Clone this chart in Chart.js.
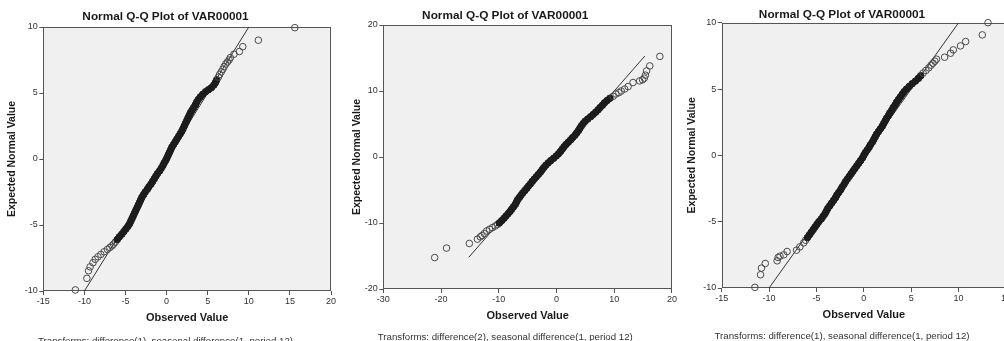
<!DOCTYPE html>
<html>
<head>
<meta charset="utf-8">
<script src="https://cdn.jsdelivr.net/npm/chart.js@4.4.1/dist/chart.umd.min.js"></script>
<style>
  body { margin: 0; background: #fff; overflow: hidden; width: 1004px; height: 341px; position: relative; }
  canvas { position: absolute; top: 0; }
</style>
</head>
<body>
<canvas id="qq1" width="338" height="348" style="left:0px"></canvas>
<canvas id="qq2" width="340" height="343" style="left:338px"></canvas>
<canvas id="qq3" width="334" height="343" style="left:678px"></canvas>
<script>
// shared texts
const chartTitle = 'Normal Q-Q Plot of VAR00001';
const xLabel = 'Observed Value';
const yLabel = 'Expected Normal Value';
const notes = [
  'Transforms: difference(1), seasonal difference(1, period 12)',
  'Transforms: difference(2), seasonal difference(1, period 12)',
  'Transforms: difference(1), seasonal difference(1, period 12)'
];

// panel 1 : observed vs expected normal value
const obs1 = [-11.1, -9.7, -9.5, -9.3, -8.96, -8.68, -8.35, -8.0, -7.6, -7.2, -6.9, -6.65, -6.45,
  -6.25, -6.0, -5.75, -5.45, -5.2, -4.95, -4.7, -4.5, -4.35, -4.2,
  -4.05, -3.9, -3.75, -3.6, -3.45, -3.3, -3.15, -3.0, -2.8, -2.6,
  -2.35, -2.15, -1.9, -1.7, -1.5, -1.3, -1.1, -0.85, -0.65, -0.45,
  -0.3, -0.1, 0.05, 0.2, 0.35, 0.5, 0.65, 0.85, 1.05, 1.25, 1.45, 1.65,
  1.85, 2.0, 2.15, 2.3, 2.45, 2.6, 2.75, 2.9, 3.1, 3.3,
  3.5, 3.65, 3.85, 4.1, 4.4, 4.75,
  5.1, 5.45, 5.75, 5.95, 6.1, 6.3, 6.45, 6.65, 6.85, 7.0,
  7.2, 7.4, 7.6, 7.75, 8.2, 8.85, 9.27, 11.16, 15.6];
const exp1 = [-9.92, -9.04, -8.47, -8.17, -7.86, -7.6, -7.41, -7.23, -7.03, -6.85, -6.7, -6.58, -6.45,
  -6.3, -6.1, -5.9, -5.7, -5.5, -5.3, -5.1, -4.9, -4.7, -4.5,
  -4.3, -4.1, -3.9, -3.7, -3.5, -3.3, -3.1, -2.9, -2.7, -2.5,
  -2.3, -2.1, -1.9, -1.7, -1.5, -1.3, -1.1, -0.9, -0.7, -0.5,
  -0.3, -0.1, 0.1, 0.3, 0.5, 0.7, 0.9, 1.1, 1.3, 1.5, 1.7, 1.9,
  2.1, 2.3, 2.5, 2.7, 2.9, 3.1, 3.3, 3.5, 3.7, 3.9,
  4.1, 4.3, 4.5, 4.7, 4.9, 5.1,
  5.25, 5.4, 5.6, 5.8, 6.0, 6.2, 6.4, 6.6, 6.8, 7.0,
  7.2, 7.35, 7.5, 7.68, 7.94, 8.14, 8.51, 9.0, 9.95];
const ref1 = [-10, 10];

// panel 2
const obs2 = [-21.1, -19.05, -15.1, -13.7, -13.2, -12.9, -12.5, -12.1, -11.6, -11.1, -10.6, -10.2,
  -9.9, -9.5, -9.1, -8.75, -8.4, -8.05, -7.75, -7.45, -7.15, -6.95,
  -6.75, -6.45, -6.15, -5.85, -5.5, -5.15, -4.85, -4.5, -4.2, -3.85,
  -3.5, -3.15, -2.8, -2.5, -2.2, -1.85, -1.45, -1.0, -0.5, -0.05,
  0.35, 0.7, 1.0, 1.3, 1.65, 2.05, 2.45, 2.8, 3.2, 3.5,
  3.8, 4.05, 4.3, 4.6, 4.95, 5.4, 5.9, 6.35, 6.8, 7.2,
  7.55, 7.95, 8.3, 8.75, 9.25, 9.8,
  10.3, 10.8, 11.2, 11.8, 12.4, 13.25, 14.4, 14.9, 15.2, 15.4, 15.6, 16.15, 17.9];
const exp2 = [-15.24, -13.8, -13.1, -12.45, -12.1, -11.9, -11.6, -11.2, -10.95, -10.7, -10.45, -10.2,
  -10.0, -9.65, -9.3, -8.95, -8.6, -8.25, -7.9, -7.55, -7.2, -6.85,
  -6.5, -6.15, -5.8, -5.45, -5.1, -4.75, -4.4, -4.05, -3.7, -3.35,
  -3.0, -2.65, -2.3, -1.95, -1.6, -1.25, -0.9, -0.55, -0.2, 0.15,
  0.5, 0.85, 1.2, 1.55, 1.9, 2.25, 2.6, 2.95, 3.3, 3.65,
  4.0, 4.35, 4.7, 5.05, 5.4, 5.75, 6.1, 6.45, 6.8, 7.15,
  7.5, 7.85, 8.2, 8.55, 8.9, 9.2,
  9.55, 9.75, 10.0, 10.3, 10.67, 11.28, 11.53, 11.7, 11.95, 12.4, 13.05, 13.8, 15.24];
const ref2 = [-15.2, 15.3];

// panel 3
const obs3 = [-11.5, -10.9, -10.8, -10.4, -9.15, -9.05, -8.85, -8.45, -8.1, -7.1, -6.75,
  -6.35, -6.15, -5.95, -5.75, -5.55, -5.35, -5.15, -4.95, -4.75, -4.5,
  -4.3, -4.1, -3.95, -3.8, -3.6, -3.4, -3.2, -3.0, -2.85, -2.65,
  -2.45, -2.3, -2.1, -1.95, -1.75, -1.55, -1.35, -1.15, -0.95, -0.75,
  -0.55, -0.35, -0.15, 0.0, 0.15, 0.35, 0.55, 0.7, 0.9, 1.05,
  1.2, 1.35, 1.55, 1.75, 1.95, 2.1, 2.25, 2.4, 2.6, 2.75,
  2.95, 3.1, 3.3, 3.45, 3.65, 3.85, 4.05, 4.25, 4.5, 4.8,
  5.1, 5.45, 5.75, 6.0, 6.25, 6.55, 6.85, 7.1,
  7.3, 7.5, 7.67, 8.52, 9.15, 9.44, 10.2, 10.74, 12.5, 13.1];
const exp3 = [-9.95, -9.0, -8.5, -8.15, -7.95, -7.7, -7.6, -7.5, -7.25, -7.15, -6.9,
  -6.6, -6.4, -6.2, -6.0, -5.8, -5.6, -5.4, -5.2, -5.0, -4.8,
  -4.6, -4.4, -4.2, -4.0, -3.8, -3.6, -3.4, -3.2, -3.0, -2.8,
  -2.6, -2.4, -2.2, -2.0, -1.8, -1.6, -1.4, -1.2, -1.0, -0.8,
  -0.6, -0.4, -0.2, 0.0, 0.2, 0.4, 0.6, 0.8, 1.0, 1.2,
  1.4, 1.6, 1.8, 2.0, 2.2, 2.4, 2.6, 2.8, 3.0, 3.2,
  3.4, 3.6, 3.8, 4.0, 4.2, 4.4, 4.6, 4.8, 5.0, 5.2,
  5.4, 5.6, 5.8, 6.0, 6.2, 6.4, 6.6, 6.8,
  6.95, 7.1, 7.25, 7.4, 7.7, 7.95, 8.25, 8.58, 9.08, 10.0];
const ref3 = [-10, 10];

// axis ranges [min, max, step]
const xAxis1 = [-15, 20, 5], yAxis1 = [-10, 10, 5];
const xAxis2 = [-30, 20, 10], yAxis2 = [-20, 20, 10];
const xAxis3 = [-15, 15, 5], yAxis3 = [-10, 10, 5];

const FONT = 'Arial, "Liberation Sans", sans-serif';

const plotFrame = {
  id: 'plotFrame',
  beforeDraw(chart) {
    const { ctx, chartArea: a } = chart;
    ctx.save();
    ctx.fillStyle = '#f0f0f0';
    ctx.fillRect(a.left, a.top, a.right - a.left, a.bottom - a.top);
    ctx.restore();
  },
  beforeDatasetsDraw(chart) {
    const { ctx, chartArea: a } = chart;
    ctx.save();
    ctx.strokeStyle = '#555';
    ctx.lineWidth = 1;
    ctx.strokeRect(Math.round(a.left) + 0.5, Math.round(a.top) + 0.5,
      Math.round(a.right - a.left) - 1, Math.round(a.bottom - a.top) - 1);
    ctx.restore();
  }
};

function pairs(xs, ys) {
  return xs.map((x, i) => ({ x: x, y: ys[i] }));
}

// markers in the crowded middle of the plot merge into a solid band
function qqChart(id, obs, exp, ref, xr, yr, note, box) {
  const crowded = (c) => c.dataIndex >= box.band[0] && c.dataIndex <= box.band[1];
  return new Chart(document.getElementById(id), {
    type: 'scatter',
    data: {
      datasets: [{
        data: pairs(obs, exp),
        pointRadius: 3.3,
        pointBorderWidth: 1,
        pointBorderColor: (c) => crowded(c) ? '#1c1c1c' : '#4a4a4a',
        pointBackgroundColor: (c) => crowded(c) ? '#1c1c1c' : 'rgba(0,0,0,0)',
        pointHoverRadius: 3.3,
        clip: false
      }, {
        data: pairs(ref, ref),
        showLine: true,
        borderColor: '#333',
        borderWidth: 1,
        pointRadius: 0
      }]
    },
    options: {
      responsive: false,
      animation: false,
      devicePixelRatio: 1,
      layout: { padding: { left: 0, right: box.padRight, top: 0, bottom: 0 } },
      plugins: {
        legend: { display: false },
        tooltip: { enabled: false },
        title: {
          display: true,
          text: chartTitle,
          color: '#1a1a1a',
          font: { family: FONT, size: 11.8, weight: 'bold' },
          padding: { top: box.titleTop, bottom: box.titleBottom }
        },
        subtitle: {
          display: true,
          position: 'bottom',
          text: note,
          color: '#333',
          font: { family: FONT, size: 9.7 },
          padding: { top: 0, bottom: box.noteBottom }
        }
      },
      scales: {
        x: {
          min: xr[0], max: xr[1],
          afterFit: (s) => { s.height = box.xHeight; },
          ticks: { stepSize: xr[2], color: '#333', padding: 1, maxRotation: 0, autoSkip: false,
            font: { family: FONT, size: 9 } },
          grid: { drawOnChartArea: false, tickLength: 4, tickColor: '#555' },
          border: { display: false },
          title: { display: true, text: xLabel, color: '#1a1a1a',
            font: { family: FONT, size: 11, weight: 'bold' },
            padding: { top: 0, bottom: box.xTitlePad } }
        },
        y: {
          min: yr[0], max: yr[1],
          afterFit: (s) => { s.width = box.yWidth; },
          ticks: { stepSize: yr[2], color: '#333', padding: 1.5, autoSkip: false,
            font: { family: FONT, size: 9 } },
          grid: { drawOnChartArea: false, tickLength: 4, tickColor: '#555' },
          border: { display: false },
          title: { display: true, text: yLabel, color: '#1a1a1a',
            font: { family: FONT, size: 10.5, weight: 'bold' },
            padding: { top: box.yTitlePad, bottom: 0 } }
        }
      }
    },
    plugins: [plotFrame]
  });
}

qqChart('qq1', obs1, exp1, ref1, xAxis1, yAxis1, notes[0],
  { band: [14, 75], padRight: 7, titleTop: 9.9, titleBottom: 2.94, noteBottom: 1.18, xHeight: 44.18, xTitlePad: 10.58, yWidth: 43.3, yTitlePad: 5.7 });
qqChart('qq2', obs2, exp2, ref2, xAxis2, yAxis2, notes[1],
  { band: [12, 66], padRight: 5.5, titleTop: 8.9, titleBottom: 1.94, noteBottom: 0.18, xHeight: 42.18, xTitlePad: 8.58, yWidth: 45.3, yTitlePad: 12.7 });
qqChart('qq3', obs3, exp3, ref3, xAxis3, yAxis3, notes[2],
  { band: [13, 74], padRight: 6, titleTop: 7.2, titleBottom: 1.34, noteBottom: 1.18, xHeight: 42.18, xTitlePad: 8.58, yWidth: 43.7, yTitlePad: 7.4 });
</script>
</body>
</html>
